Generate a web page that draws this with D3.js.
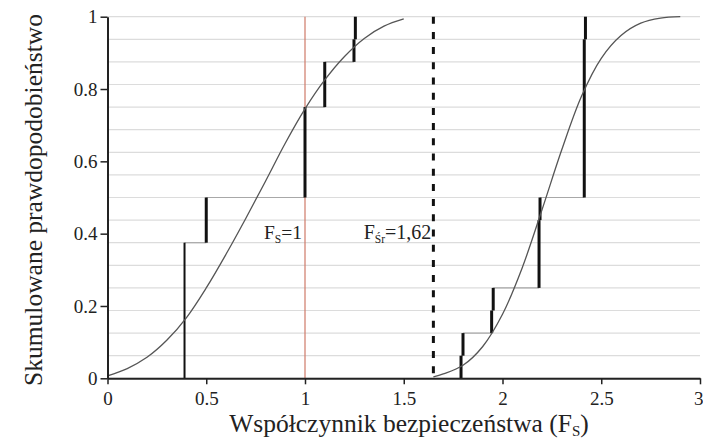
<!DOCTYPE html>
<html><head><meta charset="utf-8">
<script src="https://cdn.jsdelivr.net/npm/d3@7"></script>
<style>body{margin:0;background:#fff}svg{display:block}svg text{font-family:"Liberation Serif","Tinos","Times New Roman","DejaVu Serif",serif !important;fill:#222}</style>
</head><body>
<svg id="chart" width="703" height="444"></svg>
<script>
// Data
const xTicks = [0, 0.5, 1, 1.5, 2, 2.5, 3];
const xTickLabels = ["0", "0.5", "1", "1.5", "2", "2.5", "3"];
const yTicks = [0, 0.2, 0.4, 0.6, 0.8, 1];
const yTickLabels = ["0", "0.2", "0.4", "0.6", "0.8", "1"];
const gridLevels = [0,0.0625,0.125,0.1875,0.25,0.3125,0.375,0.4375,0.5,0.5625,0.625,0.6875,0.75,0.8125,0.875,0.9375,1];

// empirical step functions (x of jump, cumulative level after jump)
const leftStepX = [0.39, 0.50, 1.00, 1.10, 1.248, 1.255];
const leftStepY = [0.375, 0.5, 0.75, 0.875, 0.9375, 1];
const rightStepX = [1.79, 1.80, 1.945, 1.953, 2.185, 2.19, 2.414, 2.42];
const rightStepY = [0.0625, 0.125, 0.1875, 0.25, 0.4375, 0.5, 0.9375, 1];

// fitted cumulative curves
const leftCurveX = [0, 0.1, 0.2, 0.3, 0.4, 0.5, 0.6, 0.7, 0.8, 0.9, 1.0, 1.1, 1.2, 1.3, 1.4, 1.5];
const leftCurveY = [0.007, 0.027, 0.058, 0.105, 0.168, 0.25, 0.343, 0.442, 0.545, 0.65, 0.745, 0.825, 0.89, 0.94, 0.974, 0.994];
const rightCurveX = [1.65, 1.7, 1.8, 1.9, 2.0, 2.1, 2.2, 2.3, 2.4, 2.5, 2.6, 2.7, 2.8, 2.9];
const rightCurveY = [0.004, 0.012, 0.036, 0.088, 0.177, 0.306, 0.466, 0.632, 0.78, 0.885, 0.948, 0.982, 0.996, 1.0];

const fs1X = 1;       // F_S = 1
const fsMeanX = 1.65; // F_Sśr = 1,62 marker

const svg = d3.select("#chart");
const x = d3.scaleLinear().domain([0, 3]).range([107.5, 700]);
const y = d3.scaleLinear().domain([0, 1]).range([378.3, 16.7]);

// grid lines
svg.append("g").selectAll("line").data(gridLevels).join("line")
  .attr("x1", x(0)).attr("x2", x(3)).attr("y1", d => y(d)).attr("y2", d => y(d))
  .attr("stroke", "#dcdcdc").attr("stroke-width", 1.2);

// step connectors (horizontal)
function connectors(xs, ys) {
  const out = [];
  for (let i = 0; i < xs.length - 1; i++) out.push({x0: xs[i], x1: xs[i+1], y: ys[i]});
  return out;
}
const conn = connectors(leftStepX, leftStepY).concat(connectors(rightStepX, rightStepY));
svg.append("g").selectAll("line").data(conn).join("line")
  .attr("x1", d => x(d.x0)).attr("x2", d => x(d.x1))
  .attr("y1", d => y(d.y)).attr("y2", d => y(d.y))
  .attr("stroke", "#a8a8a8").attr("stroke-width", 1.2);

// red F_S = 1 line
svg.append("line").attr("x1", x(fs1X)).attr("x2", x(fs1X)).attr("y1", y(0)).attr("y2", y(1))
  .attr("stroke", "#cf7a68").attr("stroke-width", 1.2);

// vertical jumps
function jumps(xs, ys) {
  return xs.map((v, i) => ({x: v, y0: i ? ys[i-1] : 0, y1: ys[i]}));
}
const jl = jumps(leftStepX, leftStepY), jr = jumps(rightStepX, rightStepY);
svg.append("g").selectAll("line").data(jl.concat(jr)).join("line")
  .attr("x1", d => x(d.x)).attr("x2", d => x(d.x))
  .attr("y1", d => y(d.y0)).attr("y2", d => y(d.y1))
  .attr("stroke", "#111").attr("stroke-width", (d, i) => i === 0 ? 2 : 3);

// curves
const line = d3.line().x(d => x(d[0])).y(d => y(d[1])).curve(d3.curveCatmullRom.alpha(0.5));
svg.append("path").attr("d", line(d3.zip(leftCurveX, leftCurveY)))
  .attr("fill", "none").attr("stroke", "#555").attr("stroke-width", 1.3);
svg.append("path").attr("d", line(d3.zip(rightCurveX, rightCurveY)))
  .attr("fill", "none").attr("stroke", "#555").attr("stroke-width", 1.3);

// dotted mean line
svg.append("line").attr("x1", x(fsMeanX)).attr("x2", x(fsMeanX)).attr("y1", y(1)).attr("y2", y(0))
  .attr("stroke", "#111").attr("stroke-width", 3).attr("stroke-dasharray", "7,8.2");

// axes
const xAxis = d3.axisBottom(x).tickValues(xTicks).tickFormat((d, i) => xTickLabels[i]).tickSize(6).tickSizeOuter(0);
const gx = svg.append("g").attr("transform", `translate(0,${y(0)})`).call(xAxis);
gx.attr("font-family", null);
gx.select(".domain").attr("stroke", "#222").attr("stroke-width", 2);
gx.selectAll(".tick line").attr("stroke", "#222").attr("stroke-width", 1.5);
gx.selectAll(".tick text").attr("font-size", 19).attr("fill", "#222").attr("dy", "0.95em");
gx.selectAll(".tick text").filter(d => d === 3).attr("text-anchor", "end").attr("x", 3);

const yAxis = d3.axisLeft(y).tickValues(yTicks).tickFormat((d, i) => yTickLabels[i]).tickSize(7).tickSizeOuter(0);
const gy = svg.append("g").attr("transform", `translate(${x(0)},0)`).call(yAxis);
gy.attr("font-family", null);
gy.select(".domain").attr("stroke", "#222").attr("stroke-width", 2);
gy.selectAll(".tick line").attr("stroke", "#222").attr("stroke-width", 1.5);
gy.selectAll(".tick text").attr("font-size", 19).attr("fill", "#222").attr("x", -10);

// axis titles
const xt = svg.append("text").attr("x", 409).attr("y", 432).attr("text-anchor", "middle").attr("font-size", 25.5);
xt.append("tspan").text("Współczynnik bezpieczeństwa (F");
xt.append("tspan").text("S").attr("font-size", 15).attr("dy", 4);
xt.append("tspan").text(")").attr("dy", -4);

svg.append("text").attr("transform", "translate(42,200) rotate(-90)").attr("text-anchor", "middle")
  .attr("font-size", 25.5).text("Skumulowane prawdopodobieństwo");

// annotations
const a1 = svg.append("text").attr("x", x(fs1X) - 3).attr("y", 239).attr("text-anchor", "end").attr("font-size", 19.5);
a1.append("tspan").text("F");
a1.append("tspan").text("S").attr("font-size", 11.5).attr("dy", 4);
a1.append("tspan").text("=1").attr("dy", -4);

const a2 = svg.append("text").attr("x", x(fsMeanX) - 2).attr("y", 239).attr("text-anchor", "end").attr("font-size", 20);
a2.append("tspan").text("F");
a2.append("tspan").text("Śr").attr("font-size", 11.5).attr("dy", 4);
a2.append("tspan").text("=1,62").attr("dy", -4);
</script>
</body></html>
